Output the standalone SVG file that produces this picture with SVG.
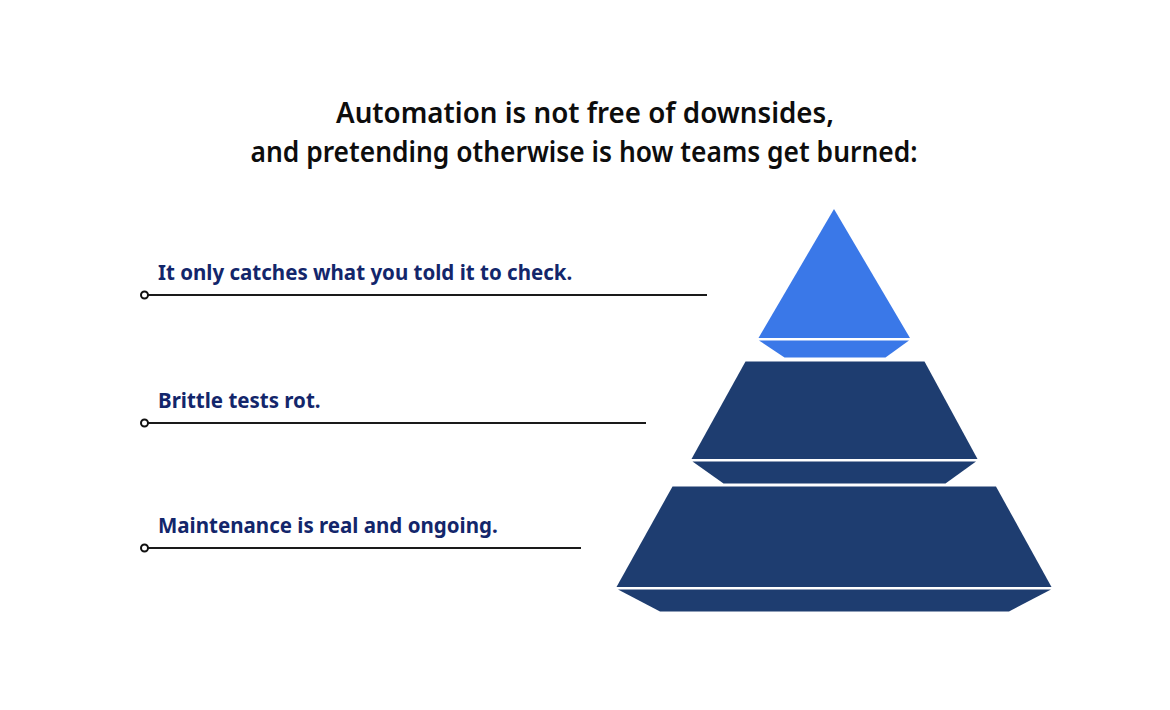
<svg xmlns="http://www.w3.org/2000/svg" width="1170" height="710" viewBox="0 0 1170 710">
<style>
.title{font-family:"Noto Sans","Open Sans",sans-serif;font-weight:600;font-size:28px;fill:#0d0d0d;text-anchor:middle}
.lbl{font-family:"Noto Sans","Open Sans",sans-serif;font-weight:700;font-size:20.5px;fill:#13266b}
.ln{stroke:#1a1a1a;stroke-width:2;fill:none}
.dot{stroke:#111;stroke-width:2;fill:#fff}
.light{fill:#3a78e8}
.dark{fill:#1e3d70}
</style>
<rect width="1170" height="710" fill="#fff"/>
<g id="title">
<text class="title" x="585" y="123" textLength="498" lengthAdjust="spacingAndGlyphs">Automation is not free of downsides,</text>
<text class="title" x="584" y="162" textLength="667" lengthAdjust="spacingAndGlyphs">and pretending otherwise is how teams get burned:</text>
</g>
<g id="connectors">
<line class="ln" x1="148" y1="295" x2="707" y2="295"/>
<circle class="dot" cx="144.5" cy="295" r="3.5"/>
<line class="ln" x1="148" y1="423" x2="646" y2="423"/>
<circle class="dot" cx="144.5" cy="423" r="3.5"/>
<line class="ln" x1="148" y1="548" x2="581" y2="548"/>
<circle class="dot" cx="144.5" cy="548" r="3.5"/>
</g>
<g id="label1"><text class="lbl" x="158" y="280">It only catches what you told it to check.</text></g>
<g id="label2"><text class="lbl" x="158" y="408">Brittle tests rot.</text></g>
<g id="label3"><text class="lbl" x="158" y="533">Maintenance is real and ongoing.</text></g>
<g id="tier1">
<polygon class="light" points="834,209 910,338 758.5,338"/>
<polygon class="light" points="759,340.5 909,340.5 885.5,357.5 784.5,357.5"/>
</g>
<g id="tier2">
<polygon class="dark" points="745.5,361.5 924.5,361.5 977.5,459 691.5,459"/>
<polygon class="dark" points="692.5,461.5 976,461.5 945.5,483.5 723.5,483.5"/>
</g>
<g id="tier3">
<polygon class="dark" points="672.5,486.5 996,486.5 1051.5,587 616.5,587"/>
<polygon class="dark" points="618,589.5 1051,589.5 1009,611.5 660,611.5"/>
</g>
</svg>
